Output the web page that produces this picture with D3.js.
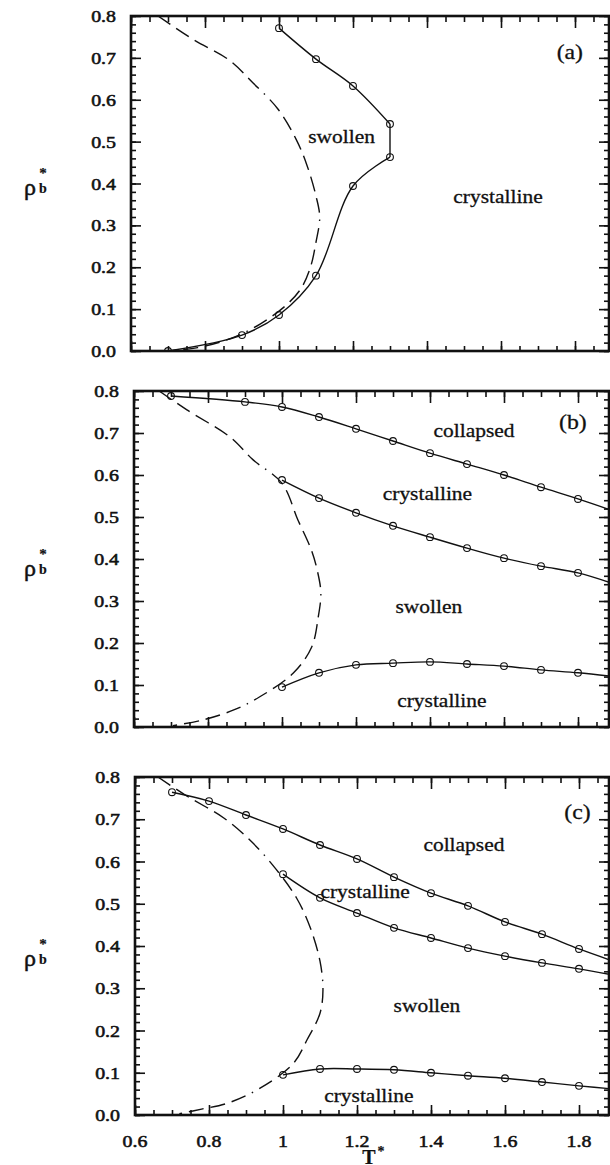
<!DOCTYPE html>
<html><head><meta charset="utf-8">
<script src="https://cdn.jsdelivr.net/npm/d3@7"></script>
<style>
html,body{margin:0;padding:0;background:#fff;}
svg{display:block;}
text{font-family:"Liberation Serif","Times New Roman",serif;fill:#111;}
</style></head><body>
<svg id="chart" width="610" height="1165"></svg>
<script>
// ---------- axis ticks ----------
const majorX = [0.6, 0.8, 1.0, 1.2, 1.4, 1.6, 1.8];
const tickLabelsX = ["0.6", "0.8", "1", "1.2", "1.4", "1.6", "1.8"];
const majorY = [0.0, 0.1, 0.2, 0.3, 0.4, 0.5, 0.6, 0.7, 0.8];
const tickLabelsY = ["0.0", "0.1", "0.2", "0.3", "0.4", "0.5", "0.6", "0.7", "0.8"];

// ---------- panel (a) ----------
const aLowerT = [0.7, 0.9, 1.0, 1.1, 1.2, 1.3];
const aLowerRho = [0.000, 0.038, 0.086, 0.180, 0.394, 0.463];
const aUpperT = [1.3, 1.2, 1.1, 1.0];
const aUpperRho = [0.542, 0.633, 0.697, 0.771];
const aDashT = [0.673, 0.77, 0.865, 0.93, 0.997, 1.046, 1.075, 1.10, 1.11, 1.10, 1.085, 1.06, 1.02, 0.95, 0.87, 0.78, 0.70];
const aDashRho = [0.80, 0.743, 0.695, 0.64, 0.578, 0.506, 0.445, 0.37, 0.32, 0.26, 0.20, 0.15, 0.11, 0.065, 0.03, 0.008, 0.0];

// ---------- panel (b) ----------
const bTopT = [0.7, 0.9, 1.0, 1.1, 1.2, 1.3, 1.4, 1.5, 1.6, 1.7, 1.8];
const bTopRho = [0.788, 0.774, 0.762, 0.738, 0.710, 0.681, 0.652, 0.626, 0.600, 0.571, 0.543];
const bMidT = [1.0, 1.1, 1.2, 1.3, 1.4, 1.5, 1.6, 1.7, 1.8];
const bMidRho = [0.588, 0.545, 0.510, 0.479, 0.452, 0.426, 0.402, 0.383, 0.367];
const bLowT = [1.0, 1.1, 1.2, 1.3, 1.4, 1.5, 1.6, 1.7, 1.8];
const bLowRho = [0.095, 0.129, 0.148, 0.152, 0.155, 0.150, 0.145, 0.136, 0.129];
const bEdgeRho = [0.513, 0.340, 0.120];   // top, middle, lower lines at T = 1.9
const bDashT = [0.668, 0.743, 0.86, 0.922, 1.0, 1.043, 1.08, 1.095, 1.105, 1.098, 1.08, 1.03, 0.94, 0.868, 0.787, 0.705];
const bDashRho = [0.80, 0.755, 0.69, 0.636, 0.58, 0.493, 0.42, 0.374, 0.32, 0.262, 0.19, 0.128, 0.072, 0.04, 0.017, 0.003];

// ---------- panel (c) ----------
const cTopT = [0.7, 0.8, 0.9, 1.0, 1.1, 1.2, 1.3, 1.4, 1.5, 1.6, 1.7, 1.8];
const cTopRho = [0.764, 0.743, 0.710, 0.677, 0.639, 0.606, 0.563, 0.525, 0.495, 0.457, 0.428, 0.393];
const cMidT = [1.0, 1.1, 1.2, 1.3, 1.4, 1.5, 1.6, 1.7, 1.8];
const cMidRho = [0.570, 0.514, 0.478, 0.443, 0.419, 0.395, 0.376, 0.360, 0.346];
const cLowT = [1.0, 1.1, 1.2, 1.3, 1.4, 1.5, 1.6, 1.7, 1.8];
const cLowRho = [0.095, 0.109, 0.109, 0.107, 0.100, 0.093, 0.087, 0.078, 0.069];
const cEdgeRho = [0.362, 0.330, 0.061];
const cDashT = [0.662, 0.74, 0.84, 0.916, 0.981, 1.037, 1.073, 1.10, 1.108, 1.10, 1.065, 1.027, 0.935, 0.85, 0.78, 0.72];
const cDashRho = [0.80, 0.755, 0.703, 0.646, 0.582, 0.513, 0.445, 0.364, 0.296, 0.241, 0.178, 0.121, 0.062, 0.028, 0.014, 0.003];

const edgeT = 1.9;

// ---------- region labels (T, rho) ----------
const aLabels = [["swollen", 1.169, 0.497], ["crystalline", 1.592, 0.353]];
const bLabels = [["collapsed", 1.519, 0.690], ["crystalline", 1.393, 0.540], ["swollen", 1.397, 0.271], ["crystalline", 1.432, 0.048]];
const cLabels = [["collapsed", 1.489, 0.625], ["crystalline", 1.222, 0.514], ["swollen", 1.389, 0.244], ["crystalline", 1.232, 0.031]];

const zip = (ts, rs) => ts.map((t, i) => [t, rs[i]]);

const svg = d3.select("#chart");
const RIGHT = 609;

const panels = [
  { id: "a", left: 131, top: 16, bottom: 351, tag: "(a)", tagPos: [1.786, 0.697], rhoBase: 195,
    solids: [zip(aLowerT, aLowerRho), [[aLowerT[5], aLowerRho[5]], [aUpperT[0], aUpperRho[0]]], zip(aUpperT, aUpperRho)],
    circles: zip(aLowerT, aLowerRho).concat(zip(aUpperT, aUpperRho)),
    dash: zip(aDashT, aDashRho), labels: aLabels, xlabels: false },
  { id: "b", left: 134, top: 391, bottom: 727, tag: "(b)", tagPos: [1.786, 0.71], rhoBase: 576,
    solids: [zip(bTopT, bTopRho).concat([[edgeT, bEdgeRho[0]]]),
             zip(bMidT, bMidRho).concat([[edgeT, bEdgeRho[1]]]),
             zip(bLowT, bLowRho).concat([[edgeT, bEdgeRho[2]]])],
    circles: zip(bTopT, bTopRho).concat(zip(bMidT, bMidRho), zip(bLowT, bLowRho)),
    dash: zip(bDashT, bDashRho), labels: bLabels, xlabels: false },
  { id: "c", left: 135, top: 777, bottom: 1115, tag: "(c)", tagPos: [1.796, 0.70], rhoBase: 966,
    solids: [zip(cTopT, cTopRho).concat([[edgeT, cEdgeRho[0]]]),
             zip(cMidT, cMidRho).concat([[edgeT, cEdgeRho[1]]]),
             zip(cLowT, cLowRho).concat([[edgeT, cEdgeRho[2]]])],
    circles: zip(cTopT, cTopRho).concat(zip(cMidT, cMidRho), zip(cLowT, cLowRho)),
    dash: zip(cDashT, cDashRho), labels: cLabels, xlabels: true }
];

// serif text with a slight horizontal stretch and a faint outline for weight
function stext(parent, x, y, str, size, anchor, sx, weight, halo) {
  return parent.append("text")
    .attr("transform", `translate(${x},${y}) scale(${sx},1)`)
    .attr("text-anchor", anchor)
    .attr("font-size", size)
    .attr("font-weight", weight || "normal")
    .attr("stroke", "#111")
    .attr("stroke-width", halo == null ? 0.3 : halo)
    .text(str);
}

panels.forEach(p => {
  const g = svg.append("g").attr("class", "panel-" + p.id);
  const x = d3.scaleLinear().domain([0.6, 1.8]).range([p.left, p.left + 444]);
  const y = d3.scaleLinear().domain([0, 0.8]).range([p.bottom, p.top]);
  const tMax = x.invert(RIGHT);

  const minorX = d3.range(0, 27).map(i => +(0.6 + i * 0.05).toFixed(2)).filter(v => v <= tMax);
  const minorY = d3.range(0, 41).map(i => +(i * 0.02).toFixed(2));

  const tickStyle = sel => {
    sel.select(".domain").remove();
    sel.selectAll("line").attr("stroke", "#111").attr("stroke-width", 1.6);
  };
  // minor + major ticks on all four sides, pointing inward
  g.append("g").attr("transform", `translate(0,${p.bottom})`)
    .call(d3.axisBottom(x).tickValues(minorX).tickSize(-5).tickFormat("")).call(tickStyle);
  g.append("g").attr("transform", `translate(0,${p.bottom})`)
    .call(d3.axisBottom(x).tickValues(majorX).tickSize(-10).tickFormat("")).call(tickStyle);
  g.append("g").attr("transform", `translate(0,${p.top})`)
    .call(d3.axisTop(x).tickValues(minorX).tickSize(-6).tickFormat("")).call(tickStyle);
  g.append("g").attr("transform", `translate(0,${p.top})`)
    .call(d3.axisTop(x).tickValues(majorX).tickSize(-12).tickFormat("")).call(tickStyle);
  g.append("g").attr("transform", `translate(${p.left},0)`)
    .call(d3.axisLeft(y).tickValues(minorY).tickSize(-5).tickFormat("")).call(tickStyle);
  g.append("g").attr("transform", `translate(${p.left},0)`)
    .call(d3.axisLeft(y).tickValues(majorY).tickSize(-10).tickFormat("")).call(tickStyle);
  g.append("g").attr("transform", `translate(${RIGHT},0)`)
    .call(d3.axisRight(y).tickValues(minorY).tickSize(-5).tickFormat("")).call(tickStyle);
  g.append("g").attr("transform", `translate(${RIGHT},0)`)
    .call(d3.axisRight(y).tickValues(majorY).tickSize(-10).tickFormat("")).call(tickStyle);

  // frame
  g.append("rect")
    .attr("x", p.left).attr("y", p.top)
    .attr("width", RIGHT - p.left).attr("height", p.bottom - p.top)
    .attr("fill", "none").attr("stroke", "#111").attr("stroke-width", 2.6);

  // y tick labels
  majorY.forEach((v, i) => stext(g, p.left - 15, y(v) + 6, tickLabelsY[i], 17, "end", 1.17, "normal", 0.55));

  // x tick labels (bottom panel only)
  if (p.xlabels) {
    majorX.forEach((v, i) => stext(g, x(v), 1147, tickLabelsX[i], 17, "middle", 1.17, "normal", 0.55));
  }

  // y axis title: rho_b^*
  const yt = g.append("g");
  stext(yt, 30, p.rhoBase, "ρ", 24, "middle", 1.0, "normal", 0.5);
  stext(yt, 43, p.rhoBase - 2, "b", 14, "middle", 1.0, "bold", 0.2);
  stext(yt, 43, p.rhoBase - 17, "*", 15, "middle", 1.0, "bold", 0.2);

  // clip region for curves
  const clipId = "clip-" + p.id;
  svg.append("clipPath").attr("id", clipId).append("rect")
    .attr("x", p.left).attr("y", p.top)
    .attr("width", RIGHT - p.left).attr("height", p.bottom - p.top);
  const plot = g.append("g").attr("clip-path", `url(#${clipId})`);

  const curve = d3.line().x(d => x(d[0])).y(d => y(d[1])).curve(d3.curveCatmullRom.alpha(0.5));
  const straight = d3.line().x(d => x(d[0])).y(d => y(d[1]));

  // dashed boundary: long dashes with an occasional dot
  plot.append("path").datum(p.dash).attr("d", curve)
    .attr("fill", "none").attr("stroke", "#111").attr("stroke-width", 1.4)
    .attr("stroke-dasharray", "15,7,15,7,15,7,15,7,15,7,15,7,1.5,7");

  // solid phase boundaries
  p.solids.forEach(s => {
    plot.append("path").datum(s).attr("d", s.length > 2 ? curve : straight)
      .attr("fill", "none").attr("stroke", "#111").attr("stroke-width", 1.4);
  });

  // simulation points
  plot.selectAll("circle.pt").data(p.circles).join("circle")
    .attr("class", "pt")
    .attr("cx", d => x(d[0])).attr("cy", d => y(d[1])).attr("r", 3.4)
    .attr("fill", "none").attr("stroke", "#111").attr("stroke-width", 1.1);

  // region labels
  p.labels.forEach(l => stext(g, x(l[1]), y(l[2]), l[0], 19, "middle", 1.13));

  // panel tag
  stext(g, x(p.tagPos[0]), y(p.tagPos[1]), p.tag, 22, "middle", 1.08);
});

// x axis title
const xt = svg.append("g");
stext(xt, 369, 1164, "T", 20, "middle", 1.0, "bold", 0.2);
stext(xt, 381, 1156, "*", 14, "middle", 1.0, "bold", 0.2);
</script>
</body></html>
